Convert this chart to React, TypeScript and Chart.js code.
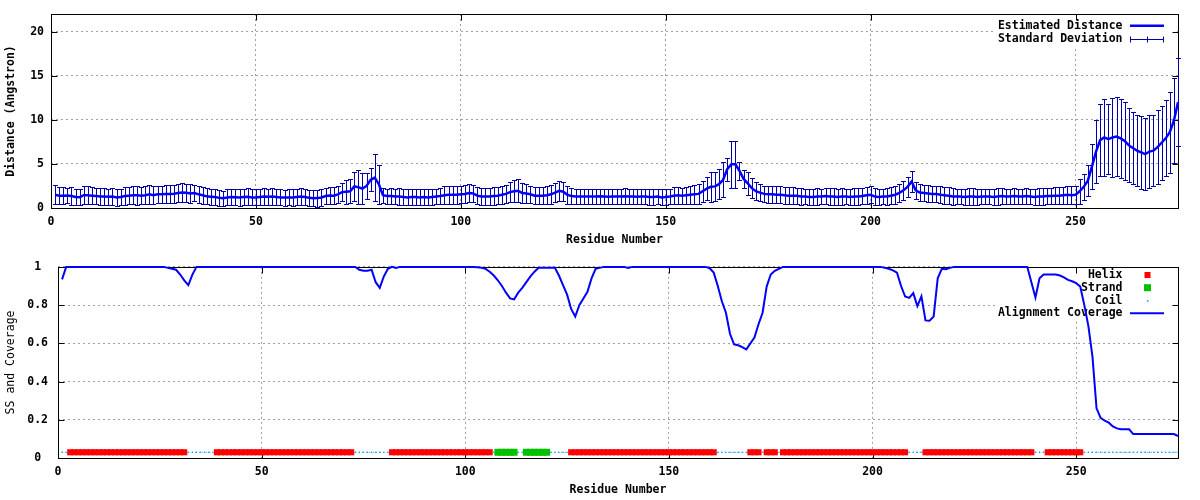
import React, { useEffect, useRef } from 'react';
import { Chart, registerables } from 'chart.js';

Chart.register(...registerables);

const FONT_FAMILY = "'DejaVu Sans Mono', 'Liberation Mono', monospace";
const FONT_SIZE = 11.5;

// ---------- Data ----------
// Estimated distance (Angstrom) for residues 1..275
const distance = [
  1.50, 1.40, 1.40, 1.42, 1.35, 1.25, 1.22, 1.45, 1.45, 1.40,
  1.35, 1.30, 1.30, 1.28, 1.30, 1.20, 1.25, 1.35, 1.40, 1.45,
  1.45, 1.40, 1.45, 1.55, 1.45, 1.55, 1.55, 1.60, 1.58, 1.62,
  1.70, 1.75, 1.72, 1.65, 1.70, 1.55, 1.45, 1.32, 1.28, 1.25,
  1.15, 1.12, 1.20, 1.25, 1.22, 1.20, 1.25, 1.28, 1.20, 1.20,
  1.25, 1.30, 1.28, 1.30, 1.25, 1.20, 1.18, 1.20, 1.20, 1.25,
  1.30, 1.25, 1.15, 1.10, 1.12, 1.20, 1.35, 1.42, 1.40, 1.55,
  1.80, 1.85, 1.90, 2.45, 2.35, 2.20, 2.50, 3.20, 3.45, 2.70,
  1.45, 1.35, 1.35, 1.30, 1.30, 1.25, 1.20, 1.25, 1.25, 1.20,
  1.25, 1.20, 1.25, 1.30, 1.35, 1.45, 1.50, 1.50, 1.50, 1.55,
  1.60, 1.70, 1.65, 1.40, 1.30, 1.30, 1.30, 1.35, 1.40, 1.50,
  1.60, 1.80, 1.90, 1.95, 1.70, 1.65, 1.55, 1.40, 1.40, 1.40,
  1.45, 1.55, 1.75, 1.95, 1.85, 1.50, 1.35, 1.30, 1.30, 1.30,
  1.30, 1.30, 1.30, 1.32, 1.30, 1.28, 1.30, 1.30, 1.30, 1.32,
  1.30, 1.30, 1.28, 1.30, 1.30, 1.25, 1.25, 1.30, 1.20, 1.25,
  1.30, 1.40, 1.45, 1.40, 1.45, 1.50, 1.55, 1.60, 1.90, 2.20,
  2.40, 2.45, 2.70, 3.20, 4.40, 4.95, 4.95, 4.20, 3.30, 2.80,
  2.25, 1.90, 1.75, 1.60, 1.55, 1.55, 1.50, 1.50, 1.45, 1.40,
  1.40, 1.40, 1.30, 1.30, 1.25, 1.25, 1.30, 1.30, 1.35, 1.30,
  1.30, 1.25, 1.30, 1.30, 1.25, 1.30, 1.30, 1.35, 1.45, 1.50,
  1.30, 1.25, 1.30, 1.30, 1.40, 1.50, 1.70, 2.00, 2.40, 3.00,
  2.00, 1.75, 1.70, 1.65, 1.60, 1.60, 1.50, 1.45, 1.40, 1.30,
  1.30, 1.30, 1.25, 1.30, 1.30, 1.25, 1.30, 1.30, 1.30, 1.25,
  1.30, 1.35, 1.30, 1.30, 1.35, 1.30, 1.30, 1.35, 1.30, 1.25,
  1.30, 1.30, 1.35, 1.35, 1.40, 1.40, 1.45, 1.50, 1.45, 1.50,
  1.90, 2.40, 3.10, 4.70, 6.40, 7.70, 8.00, 7.80, 8.00, 8.10,
  7.90, 7.60, 7.10, 6.80, 6.50, 6.30, 6.10, 6.40, 6.50, 6.90,
  7.40, 7.90, 8.60, 9.90, 12.00,
];

// Standard deviation of the distance
const stdDev = [
  1.10, 0.95, 0.95, 0.90, 1.00, 0.95, 0.90, 1.00, 1.00, 0.95,
  0.90, 0.95, 1.00, 0.90, 0.95, 0.95, 0.90, 1.00, 1.00, 1.05,
  1.10, 1.00, 1.00, 1.05, 1.00, 0.95, 1.00, 1.00, 1.05, 1.00,
  1.00, 1.05, 1.00, 1.05, 0.95, 1.00, 0.95, 0.90, 0.90, 0.95,
  0.90, 0.85, 0.90, 0.95, 0.90, 0.95, 0.90, 0.95, 0.90, 0.90,
  0.95, 0.95, 0.90, 0.95, 0.90, 0.90, 0.90, 0.90, 0.95, 0.90,
  0.95, 0.90, 0.90, 0.90, 0.95, 0.95, 0.90, 1.00, 1.00, 1.00,
  1.00, 1.35, 1.35, 1.60, 1.95, 1.75, 1.50, 1.30, 2.65, 2.20,
  0.85, 0.85, 0.90, 0.90, 0.95, 0.90, 0.90, 0.95, 0.90, 0.90,
  0.95, 0.90, 0.90, 0.90, 0.95, 1.00, 1.00, 1.05, 1.00, 1.00,
  1.05, 1.00, 1.00, 0.95, 0.95, 0.95, 1.00, 1.00, 1.00, 1.00,
  1.05, 1.10, 1.25, 1.30, 1.15, 1.10, 1.00, 1.00, 0.95, 0.95,
  1.00, 1.05, 1.10, 1.10, 1.05, 1.00, 0.90, 0.90, 0.85, 0.85,
  0.85, 0.85, 0.85, 0.85, 0.85, 0.85, 0.85, 0.85, 0.85, 0.90,
  0.85, 0.85, 0.85, 0.85, 0.85, 0.90, 0.90, 0.90, 0.90, 0.90,
  0.90, 0.95, 0.95, 0.90, 0.95, 1.00, 1.05, 1.10, 1.20, 1.30,
  1.70, 1.65, 1.70, 2.00, 1.30, 2.65, 2.65, 1.00, 1.00, 1.30,
  1.10, 1.00, 0.95, 0.95, 0.95, 0.95, 0.95, 0.95, 0.95, 0.95,
  0.95, 0.90, 0.95, 0.90, 0.90, 0.95, 0.95, 0.90, 0.95, 0.95,
  0.95, 0.90, 0.95, 0.90, 0.95, 0.95, 0.95, 0.95, 0.95, 0.95,
  0.95, 0.90, 0.90, 0.95, 0.95, 1.00, 1.00, 1.05, 1.10, 1.15,
  1.00, 0.95, 0.95, 0.95, 0.95, 0.95, 0.95, 0.95, 0.95, 0.95,
  0.90, 0.90, 0.90, 0.95, 0.95, 0.95, 0.90, 0.90, 0.90, 0.95,
  0.95, 0.95, 0.90, 0.90, 0.95, 0.90, 0.90, 0.95, 0.90, 0.90,
  0.95, 0.95, 0.95, 0.95, 0.95, 0.95, 0.95, 1.00, 1.00, 1.00,
  1.40, 1.50, 1.75, 2.60, 3.60, 4.10, 4.40, 4.00, 4.50, 4.50,
  4.45, 4.40, 4.20, 4.10, 4.05, 4.10, 4.10, 4.10, 4.00, 4.20,
  4.20, 4.30, 4.60, 4.80, 5.00,
];

// Alignment coverage for residues 1..275
const coverage = [
  0.935, 1, 1, 1, 1, 1, 1, 1, 1, 1,
  1, 1, 1, 1, 1, 1, 1, 1, 1, 1,
  1, 1, 1, 1, 1, 1, 0.995, 0.99, 0.985, 0.96,
  0.93, 0.905, 0.96, 1, 1, 1, 1, 1, 1, 1,
  1, 1, 1, 1, 1, 1, 1, 1, 1, 1,
  1, 1, 1, 1, 1, 1, 1, 1, 1, 1,
  1, 1, 1, 1, 1, 1, 1, 1, 1, 1,
  1, 1, 1, 0.985, 0.98, 0.98, 0.985, 0.92, 0.89, 0.95,
  0.99, 1, 0.995, 1, 1, 1, 1, 1, 1, 1,
  1, 1, 1, 1, 1, 1, 1, 1, 1, 1,
  1, 1, 0.998, 0.995, 0.99, 0.975, 0.955, 0.93, 0.9, 0.865,
  0.835, 0.83, 0.865, 0.89, 0.92, 0.95, 0.975, 0.995, 0.995, 0.995,
  0.995, 0.995, 0.955, 0.905, 0.855, 0.78, 0.74, 0.8, 0.835, 0.87,
  0.94, 0.99, 0.995, 1, 1, 1, 1, 1, 1, 0.995,
  1, 1, 1, 1, 1, 1, 1, 1, 1, 1,
  1, 1, 1, 1, 1, 1, 1, 1, 1, 0.993,
  0.97, 0.9, 0.82, 0.76, 0.65, 0.595, 0.59, 0.58, 0.568, 0.6,
  0.63, 0.7, 0.76, 0.897, 0.96, 0.98, 0.99, 1, 1, 1,
  1, 1, 1, 1, 1, 1, 1, 1, 1, 1,
  1, 1, 1, 1, 1, 1, 1, 1, 1, 1,
  1, 1, 0.995, 0.99, 0.982, 0.97, 0.9, 0.845, 0.838, 0.863,
  0.795, 0.846, 0.72, 0.718, 0.74, 0.94, 0.99, 0.988, 0.995, 1,
  1, 1, 1, 1, 1, 1, 1, 1, 1, 1,
  1, 1, 1, 1, 1, 1, 1, 1, 0.92, 0.84,
  0.94, 0.96, 0.96, 0.96, 0.96, 0.955, 0.945, 0.932, 0.925, 0.915,
  0.897, 0.8, 0.69, 0.53, 0.26, 0.21, 0.195, 0.185, 0.165, 0.155,
  0.15, 0.15, 0.15, 0.125, 0.125, 0.125, 0.125, 0.125, 0.125, 0.125,
  0.125, 0.125, 0.125, 0.125, 0.115,
];

// Secondary structure segments (residue ranges, inclusive)
const helixSegments = [
  [3, 31], [39, 72], [82, 106], [126, 161], [170, 172],
  [174, 176], [178, 208], [213, 239], [243, 251],
];
const strandSegments = [[108, 112], [115, 120]];
const ssLevel = 0.03;

const distanceYTicks = { min: 0, max: 22, step: 5 };
const coverageYTicks = { min: 0, max: 1, step: 0.2 };
const residueTicks = { min: 0, max: 275, step: 50 };

const residues = distance.map((_, i) => i + 1);
const inSeg = (r: number, segs: number[][]) => segs.some(([a, b]) => r >= a && r <= b);

// ---------- Styles ----------
const LINE_BLUE = '#0000ff';
const ERR_BLUE = '#0000a8';
const HELIX_RED = '#ff0000';
const STRAND_GREEN = '#00c000';
const COIL_BLUE = '#0096ff';
const GRID = '#a0a0a0';

const boldFont = { family: FONT_FAMILY, size: FONT_SIZE, weight: 'bold' as const };
const normalFont = { family: FONT_FAMILY, size: FONT_SIZE, weight: 'normal' as const };

const LEG_TEXT_RIGHT = 1122.5;
const LEG_S0 = 1130;
const LEG_S1 = 1164;
const LEG_MID = 1147.5;

function drawFrame(chart: any) {
  const { ctx, chartArea: a, scales } = chart;
  const L = Math.round(a.left) + 0.5;
  const R = Math.round(a.right) + 0.5;
  const T = Math.round(a.top) + 0.5;
  const B = Math.round(a.bottom) + 0.5;
  ctx.save();
  ctx.strokeStyle = '#000';
  ctx.lineWidth = 1;
  ctx.setLineDash([]);
  ctx.strokeRect(L, T, R - L, B - T);
  const len = 6;
  ctx.beginPath();
  scales.x.ticks.forEach((t: any) => {
    const px = Math.round(scales.x.getPixelForValue(t.value)) + 0.5;
    ctx.moveTo(px, B); ctx.lineTo(px, B - len);
    ctx.moveTo(px, T); ctx.lineTo(px, T + len);
  });
  scales.y.ticks.forEach((t: any) => {
    const py = Math.round(scales.y.getPixelForValue(t.value)) + 0.5;
    ctx.moveTo(L, py); ctx.lineTo(L + len, py);
    ctx.moveTo(R, py); ctx.lineTo(R - len, py);
  });
  ctx.stroke();
  ctx.restore();
}

function legendText(ctx: CanvasRenderingContext2D, text: string, y: number) {
  ctx.font = `bold ${FONT_SIZE}px ${FONT_FAMILY}`;
  ctx.fillStyle = '#000';
  ctx.textAlign = 'right';
  ctx.textBaseline = 'middle';
  ctx.fillText(text, LEG_TEXT_RIGHT, y);
}

const topDecor = {
  id: 'topDecor',
  beforeDatasetsDraw(chart: any) {
    const { ctx, scales: { x, y } } = chart;
    ctx.save();
    ctx.fillStyle = '#fff';
    ctx.fillRect(996, 15, 181, 32);
    const r1 = 25.7, r2 = 38.7;
    legendText(ctx, 'Estimated Distance', r1);
    legendText(ctx, 'Standard Deviation', r2);
    ctx.strokeStyle = LINE_BLUE;
    ctx.lineWidth = 2.5;
    ctx.beginPath(); ctx.moveTo(LEG_S0, r1); ctx.lineTo(LEG_S1, r1); ctx.stroke();
    ctx.strokeStyle = ERR_BLUE;
    ctx.lineWidth = 1;
    const ry = Math.round(r2) + 0.5;
    ctx.beginPath();
    ctx.moveTo(LEG_S0, ry); ctx.lineTo(LEG_S1, ry);
    ctx.moveTo(LEG_S0 + 0.5, ry - 3); ctx.lineTo(LEG_S0 + 0.5, ry + 3);
    ctx.moveTo(LEG_S1 - 0.5, ry - 3); ctx.lineTo(LEG_S1 - 0.5, ry + 3);
    ctx.moveTo(LEG_MID, ry - 3); ctx.lineTo(LEG_MID, ry + 3);
    ctx.stroke();
    ctx.restore();

    drawFrame(chart);

    // error bars from the data through the scales
    ctx.save();
    ctx.strokeStyle = ERR_BLUE;
    ctx.lineWidth = 1;
    ctx.beginPath();
    residues.forEach((r, i) => {
      const px = Math.round(x.getPixelForValue(r)) + 0.5;
      const top = Math.round(y.getPixelForValue(distance[i] + stdDev[i])) + 0.5;
      const bot = Math.round(y.getPixelForValue(distance[i] - stdDev[i])) + 0.5;
      ctx.moveTo(px, top); ctx.lineTo(px, bot);
      ctx.moveTo(px - 2.5, top); ctx.lineTo(px + 2.5, top);
      ctx.moveTo(px - 2.5, bot); ctx.lineTo(px + 2.5, bot);
    });
    ctx.stroke();
    ctx.restore();
  },
};

const bottomDecor = {
  id: 'bottomDecor',
  beforeDatasetsDraw(chart: any) {
    const { ctx } = chart;
    ctx.save();
    ctx.fillStyle = '#fff';
    ctx.fillRect(998, 14, 179, 56);
    const rows = [25, 37.7, 50.7, 63.3];
    legendText(ctx, 'Helix', rows[0]);
    legendText(ctx, 'Strand', rows[1]);
    legendText(ctx, 'Coil', rows[2]);
    legendText(ctx, 'Alignment Coverage', rows[3]);
    ctx.fillStyle = HELIX_RED;
    ctx.fillRect(LEG_MID - 3, rows[0] - 3, 6, 6);
    ctx.fillStyle = STRAND_GREEN;
    ctx.fillRect(LEG_MID - 3.5, rows[1] - 3.5, 7, 7);
    ctx.fillStyle = COIL_BLUE;
    ctx.fillRect(LEG_MID - 0.5, rows[2] - 0.5, 1.5, 1.5);
    ctx.strokeStyle = LINE_BLUE;
    ctx.lineWidth = 2;
    ctx.beginPath(); ctx.moveTo(LEG_S0, rows[3]); ctx.lineTo(LEG_S1, rows[3]); ctx.stroke();
    ctx.restore();
    drawFrame(chart);
  },
};

function xScale() {
  return {
    type: 'linear' as const,
    min: residueTicks.min,
    max: residueTicks.max,
    ticks: { stepSize: residueTicks.step, includeBounds: false, padding: 7, font: boldFont, color: '#000', maxRotation: 0 },
    grid: { color: GRID, drawTicks: false, lineWidth: 1 },
    border: { display: false, dash: [2, 3] },
    title: { display: true, text: 'Residue Number', font: boldFont, color: '#000', padding: { top: 0, bottom: 3 } },
    afterFit: (s: any) => { s.height = 42; },
  };
}

function topConfig(): any {
  return {
    type: 'line',
    data: {
      datasets: [
        {
          label: 'Estimated Distance',
          data: residues.map((r, i) => ({ x: r, y: distance[i] })),
          borderColor: LINE_BLUE,
          borderWidth: 2.5,
          pointRadius: 0,
          tension: 0,
          fill: false,
          clip: false,
        },
      ],
    },
    options: {
      responsive: false,
      animation: false,
      devicePixelRatio: 1,
      layout: { padding: { top: 14, right: 22, left: 0, bottom: 0 } },
      plugins: { legend: { display: false }, tooltip: { enabled: false } },
      scales: {
        x: xScale(),
        y: {
          type: 'linear',
          min: distanceYTicks.min,
          max: distanceYTicks.max,
          ticks: { stepSize: distanceYTicks.step, includeBounds: false, padding: 7, font: boldFont, color: '#000' },
          grid: { color: GRID, drawTicks: false, lineWidth: 1 },
          border: { display: false, dash: [2, 3] },
          title: { display: true, text: 'Distance (Angstron)', font: boldFont, color: '#000', padding: { top: 4, bottom: 0 } },
          afterFit: (s: any) => { s.width = 51; },
        },
      },
    },
    plugins: [topDecor],
  };
}

function bottomConfig(): any {
  return {
    type: 'line',
    data: {
      datasets: [
        {
          label: 'Alignment Coverage',
          data: residues.map((r, i) => ({ x: r, y: coverage[i] })),
          borderColor: LINE_BLUE,
          borderWidth: 2,
          pointRadius: 0,
          tension: 0,
          fill: false,
          clip: false,
        },
        {
          label: 'Strand',
          data: residues.filter((r) => inSeg(r, strandSegments)).map((r) => ({ x: r, y: ssLevel })),
          showLine: false,
          pointStyle: 'rect',
          pointRadius: 4.9,
          pointBorderWidth: 0,
          borderWidth: 0,
          pointBackgroundColor: STRAND_GREEN,
          backgroundColor: STRAND_GREEN,
        },
        {
          label: 'Helix',
          data: residues.filter((r) => inSeg(r, helixSegments)).map((r) => ({ x: r, y: ssLevel })),
          showLine: false,
          pointStyle: 'rect',
          pointRadius: 4.3,
          pointBorderWidth: 0,
          borderWidth: 0,
          pointBackgroundColor: HELIX_RED,
          backgroundColor: HELIX_RED,
        },
        {
          label: 'Coil',
          data: residues.map((r) => ({
            x: r,
            y: inSeg(r, helixSegments) || inSeg(r, strandSegments) ? null : ssLevel,
          })),
          borderColor: COIL_BLUE,
          borderWidth: 1,
          borderDash: [1, 2.5],
          pointStyle: 'rect',
          pointRadius: 0.9,
          pointBorderWidth: 0,
          pointBackgroundColor: COIL_BLUE,
          spanGaps: false,
          tension: 0,
        },
      ],
    },
    options: {
      responsive: false,
      animation: false,
      devicePixelRatio: 1,
      layout: { padding: { top: 13, right: 22, left: 0, bottom: 0 } },
      plugins: { legend: { display: false }, tooltip: { enabled: false } },
      scales: {
        x: xScale(),
        y: {
          type: 'linear',
          min: coverageYTicks.min,
          max: coverageYTicks.max,
          ticks: {
            stepSize: coverageYTicks.step,
            padding: 10,
            crossAlign: 'center',
            font: boldFont,
            color: '#000',
            callback: (v: any) => String(Number(Number(v).toFixed(1))),
          },
          grid: { color: GRID, drawTicks: false, lineWidth: 1 },
          border: { display: false, dash: [2, 3] },
          title: { display: true, text: 'SS and Coverage', font: normalFont, color: '#000', padding: { top: 4, bottom: 0 } },
          afterFit: (s: any) => { s.width = 58; },
        },
      },
    },
    plugins: [bottomDecor],
  };
}

export default function App() {
  const topRef = useRef<HTMLCanvasElement>(null);
  const botRef = useRef<HTMLCanvasElement>(null);

  useEffect(() => {
    const c1 = new Chart(topRef.current as HTMLCanvasElement, topConfig());
    const c2 = new Chart(botRef.current as HTMLCanvasElement, bottomConfig());
    return () => {
      c1.destroy();
      c2.destroy();
    };
  }, []);

  return (
    <div style={{ position: 'absolute', left: 0, top: 0, width: 1200, height: 500, background: '#fff' }}>
      <canvas
        ref={topRef}
        width={1200}
        height={250}
        style={{ position: 'absolute', left: 0, top: 0, width: 1200, height: 250 }}
      />
      <canvas
        ref={botRef}
        width={1200}
        height={250}
        style={{ position: 'absolute', left: 0, top: 250, width: 1200, height: 250 }}
      />
    </div>
  );
}
